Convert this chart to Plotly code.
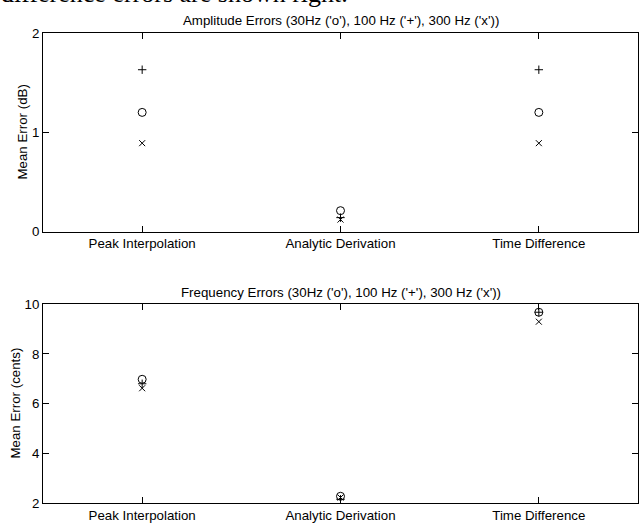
import plotly.graph_objects as go
from plotly.subplots import make_subplots

methods = ["Peak Interpolation", "Analytic Derivation", "Time Difference"]

amp_30 = [1.20, 0.21, 1.20]
amp_100 = [1.63, 0.14, 1.63]
amp_300 = [0.89, 0.12, 0.89]

freq_30 = [6.98, 2.27, 9.68]
freq_100 = [6.80, 2.15, 9.68]
freq_300 = [6.62, 2.22, 9.30]

amp_ticks = [0, 1, 2]
freq_ticks = [2, 4, 6, 8, 10]

# body margin is removed by post_script, so the figure sits at (0, 0)
OFF = 0
W, H = 639 - OFF, 523 - OFF
ML, MR, MT, MB = 43 - OFF, 1, 33 - OFF, 20
PW = W - ML - MR
PH = H - MT - MB


def px(sx):
    return (sx - OFF - ML) / PW


def py(sy):
    return (H - MB - (sy - OFF)) / PH


FONT = "Liberation Sans, Arial, Helvetica, sans-serif"
FS = 13.3

fig = make_subplots(rows=2, cols=1)
fig.update_layout(
    yaxis=dict(domain=[py(231.5), py(33)]),
    yaxis2=dict(domain=[py(503), py(304.3)]),
)

sym = [("circle-open", 8), ("cross-thin-open", 6), ("x-thin-open", 6)]

for row, series in ((1, (amp_30, amp_100, amp_300)), (2, (freq_30, freq_100, freq_300))):
    for vals, (s, sz) in zip(series, sym):
        fig.add_trace(
            go.Scatter(
                x=methods, y=vals, mode="markers",
                marker=dict(symbol=s, size=sz, color="black", line=dict(color="black", width=1)),
                showlegend=False, hoverinfo="skip",
            ),
            row=row, col=1,
        )

axis_common = dict(
    showline=True, linecolor="black", linewidth=1, mirror="ticks",
    ticks="inside", ticklen=6, tickcolor="black", tickwidth=1,
    showgrid=False, zeroline=False,
    tickfont=dict(family=FONT, size=FS, color="black"),
)

for r in (1, 2):
    fig.update_xaxes(type="category", range=[-0.5, 2.5], **axis_common, row=r, col=1)

fig.update_yaxes(range=[0, 2], tickvals=amp_ticks, **axis_common, row=1, col=1)
fig.update_yaxes(range=[2, 10], tickvals=freq_ticks, **axis_common, row=2, col=1)

tf = dict(family=FONT, size=FS, color="black")
annos = [
    dict(text="Amplitude Errors (30Hz ('o'), 100 Hz ('+'), 300 Hz ('x'))",
         x=0.5, xref="paper", y=py(21), yref="paper", xanchor="center", yanchor="middle",
         showarrow=False, font=tf),
    dict(text="Frequency Errors (30Hz ('o'), 100 Hz ('+'), 300 Hz ('x'))",
         x=0.5, xref="paper", y=py(292.5), yref="paper", xanchor="center", yanchor="middle",
         showarrow=False, font=tf),
    dict(text="Mean Error (dB)", textangle=-90,
         x=px(21.5), xref="paper", y=py(132), yref="paper", xanchor="center", yanchor="middle",
         showarrow=False, font=tf),
    dict(text="Mean Error (cents)", textangle=-90,
         x=px(15), xref="paper", y=py(403.5), yref="paper", xanchor="center", yanchor="middle",
         showarrow=False, font=tf),
    dict(text="difference errors are shown right.",
         x=px(-1), xref="paper", y=py(10.5), yref="paper",
         xanchor="left", yanchor="bottom", showarrow=False,
         font=dict(family="Liberation Serif, Times New Roman, serif", size=26, color="black")),
]

fig.update_layout(
    width=W, height=H,
    margin=dict(l=ML, r=MR, t=MT, b=MB, pad=0),
    paper_bgcolor="white", plot_bgcolor="white",
    annotations=annos,
    showlegend=False,
)

fig.write_html(
    "out.html",
    config={"displayModeBar": False},
    post_script="document.body.style.margin='0';document.body.style.padding='0';",
)
